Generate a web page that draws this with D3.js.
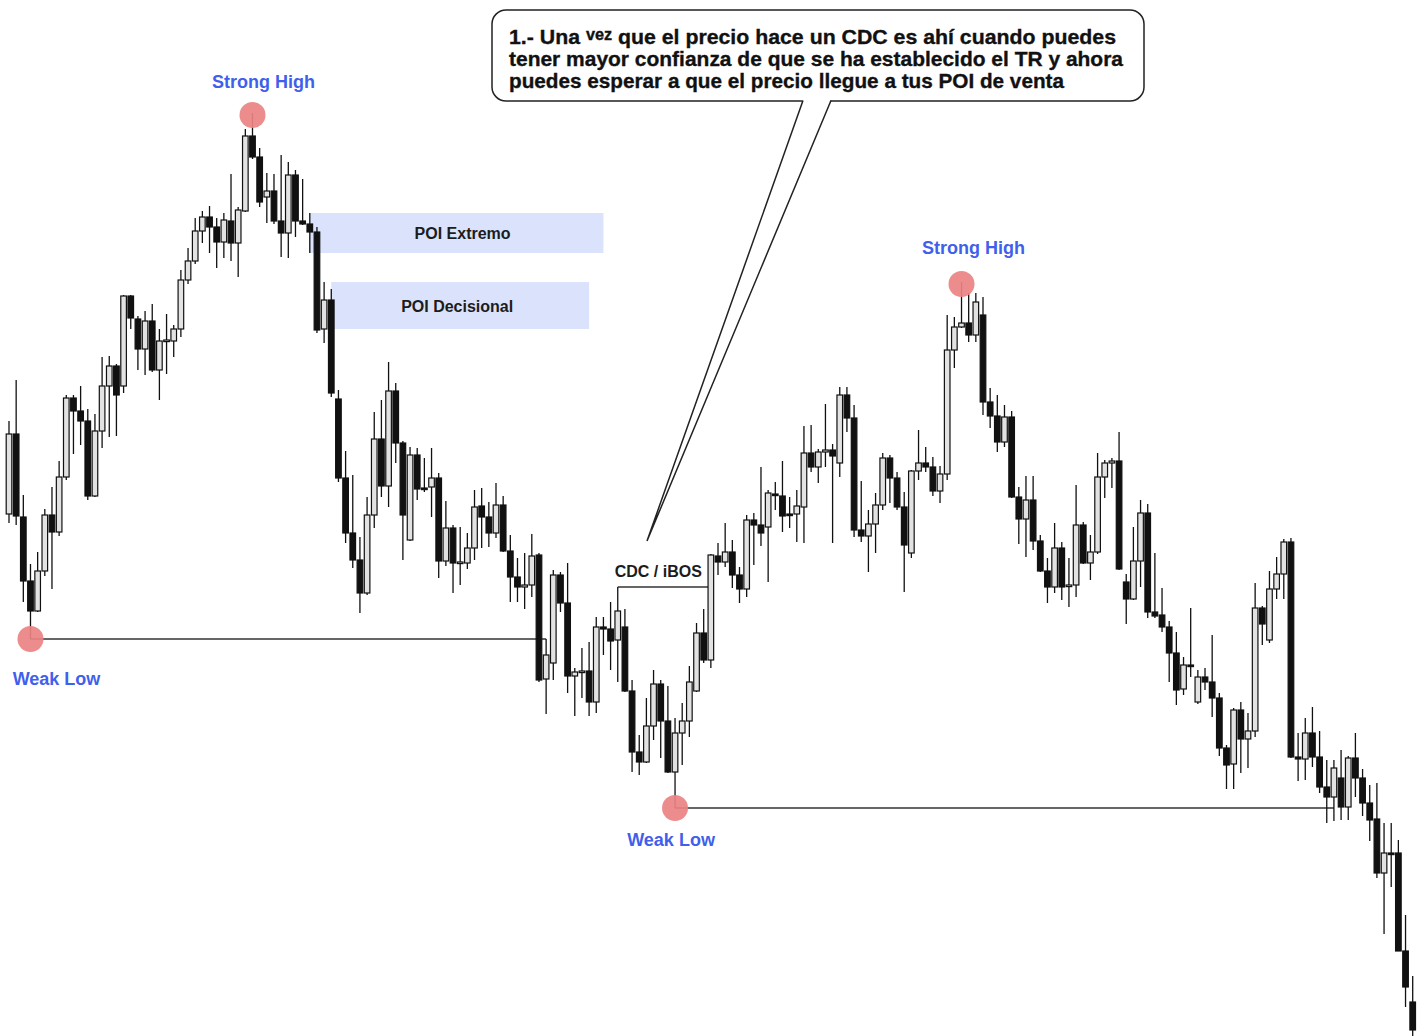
<!DOCTYPE html>
<html>
<head>
<meta charset="utf-8">
<script src="https://cdn.jsdelivr.net/npm/d3@7"></script>
<style>
  body { margin: 0; background: #fff; }
  svg { display: block; }
  text { font-family: "Liberation Sans", Arial, sans-serif; font-weight: bold; }
</style>
</head>
<body>
<script>
const width = 1421;
const height = 1036;

// precios OHLC (197 velas)
const opens = [
  586,666,583,519,489,529,585,568,623,702, 689,679,604,669,714,734,714,804,781,751,
  779,730,759,759,771,820,839,869,883,873, 858,879,857,889,964,943,903,909,879,867,
  925,879,876,868,771,800,701,622,567,540, 507,585,661,614,709,657,560,645,612,613,
  622,539,572,537,537,552,594,583,567,595, 549,523,513,515,545,421,437,525,497,424,
  428,429,398,473,471,460,473,409,348,338, 374,416,379,328,367,379,409,467,440,544,
  538,548,525,511,580,575,573,606,604,586, 586,593,647,633,648,650,637,705,682,570,
  564,576,595,642,622,593,547,629,637,633, 609,626,750,773,777,765,785,698,684,658,
  683,603,581,600,559,529,513,552,514,515, 575,537,548,623,637,639,518,501,539,587,
  488,485,473,447,411,435,398,423,418,402, 352,336,390,361,369,492,460,511,526,558,
  343,341,367,343,313,303,322,293,342,322, 297,281,227,247,247,149,98
];
const highs = [
  679,720,605,536,548,591,613,639,705,705, 714,691,686,743,744,736,805,805,784,789,
  796,771,786,775,830,852,882,889,894,882, 887,926,893,971,987,952,927,926,945,938,
  930,921,887,873,818,811,710,649,625,563, 603,688,700,738,717,659,653,652,642,652,
  627,599,575,573,567,610,612,598,617,604, 565,542,547,566,547,461,530,528,537,432,
  452,458,483,483,498,513,491,420,365,402, 430,420,414,382,397,434,477,491,546,557,
  577,560,533,585,587,633,610,618,639,603, 610,674,675,651,696,656,713,713,695,619,
  590,607,647,645,628,608,630,670,653,643, 634,785,783,818,807,807,803,712,705,695,
  689,613,624,624,565,542,577,558,542,615, 578,565,647,640,642,668,526,573,600,596,
  547,512,479,468,443,492,430,432,465,407, 355,392,398,387,517,494,529,543,561,562,
  367,382,393,369,340,340,350,344,367,331, 315,317,277,277,260,185,124
];
const lows = [
  577,575,498,461,488,524,511,564,620,646, 655,600,603,652,663,664,707,771,730,725,
  728,700,726,743,763,816,836,857,847,832, 842,839,823,888,941,893,877,876,843,842,
  863,875,847,767,757,703,618,557,532,487, 505,572,603,593,637,540,559,600,608,583,
  522,534,507,515,531,540,552,553,562,548, 498,498,491,503,418,386,420,488,407,384,
  402,384,387,445,430,418,408,328,325,337, 360,342,327,292,335,363,408,437,432,525,
  533,512,497,503,535,554,518,590,568,572, 558,557,628,617,633,557,623,668,563,558,
  528,547,590,597,590,508,542,620,628,604, 597,620,732,772,758,758,685,672,648,653,
  602,556,543,550,528,497,507,500,493,503, 536,520,546,602,612,530,476,500,513,482,
  482,468,418,395,405,423,396,410,383,344, 311,311,327,332,363,455,457,501,501,342,
  319,320,333,307,277,279,280,280,303,284, 259,222,166,213,149,93,64
];
const closes = [
  666,584,519,489,529,585,568,623,702,689, 679,604,669,714,734,705,804,782,751,779,
  730,759,760,771,820,839,869,883,873,858, 880,857,890,964,943,898,909,879,867,925,
  879,876,868,770,800,707,622,567,540,507, 585,661,614,709,657,585,645,611,611,622,
  539,572,537,538,552,593,583,567,595,549, 523,513,515,544,420,445,525,497,424,428,
  429,398,473,471,459,489,409,348,338,374, 416,379,328,367,379,418,467,440,545,538,
  548,525,511,580,575,567,607,606,584,586, 594,647,633,648,650,644,705,682,570,564,
  576,595,642,622,593,555,629,637,633,609, 626,750,773,777,765,798,698,684,658,683,
  603,581,600,559,529,513,552,513,515,575, 537,548,623,637,639,531,501,539,587,488,
  484,473,447,410,435,435,423,418,402,352, 335,390,361,369,492,476,511,526,558,343,
  341,367,343,313,303,332,293,342,322,297, 280,227,247,247,149,113,70
];

// velas de referencia para las marcas (índices)
const swingHighs = [34, 133];          // Strong High
const swingLows = [3, 93];             // Weak Low
const lowLineEnds = [75, 185];         // fin de la línea de cada Weak Low
const cdcFrom = 85, cdcTo = 98;        // CDC / iBOS
const poiNames = ["POI Extremo", "POI Decisional"];
const poiStart = [42, 45];
const poiEnd = [83, 81];

const noteLines = [
  "1.- Una vez que el precio hace un CDC es ahí cuando puedes",
  "tener mayor confianza de que se ha establecido el TR y ahora",
  "puedes esperar a que el precio llegue a tus POI de venta"
];

const candles = opens.map((o, i) => ({ i, o, h: highs[i], l: lows[i], c: closes[i] }));

const svg = d3.select("body").append("svg")
  .attr("width", width)
  .attr("height", height);

svg.append("rect").attr("width", width).attr("height", height).attr("fill", "#fff");

const x = d3.scaleLinear().domain([0, candles.length - 1]).range([9, 1412.7]);
const y = d3.scaleLinear().domain([64, 1100]).range([height, 0]);
const bw = 5.6;

// zonas POI (detrás de las velas)
const poiTop = [highs[poiStart[0]], highs[44]];
const poiBottom = [lows[poiStart[0]], opens[44]];
const poiTextDx = [6, -3];
poiNames.forEach((name, k) => {
  svg.append("rect")
    .attr("x", x(poiStart[k]))
    .attr("y", y(poiTop[k]))
    .attr("width", x(poiEnd[k]) - x(poiStart[k]))
    .attr("height", y(poiBottom[k]) - y(poiTop[k]))
    .attr("fill", "#dae3fb");
  svg.append("text")
    .attr("x", (x(poiStart[k]) + x(poiEnd[k])) / 2 + poiTextDx[k])
    .attr("y", (y(poiTop[k]) + y(poiBottom[k])) / 2 + 6)
    .attr("text-anchor", "middle")
    .attr("font-size", 16)
    .attr("fill", "#1c1c1c")
    .text(name);
});

// líneas de los Weak Low
swingLows.forEach((i, k) => {
  svg.append("line")
    .attr("x1", x(i)).attr("x2", x(lowLineEnds[k]))
    .attr("y1", y(lows[i])).attr("y2", y(lows[i]))
    .attr("stroke", "#666")
    .attr("stroke-width", 2.2);
});

// CDC / iBOS
svg.append("line")
  .attr("x1", x(cdcFrom)).attr("x2", x(cdcTo) - bw / 2)
  .attr("y1", y(highs[cdcFrom])).attr("y2", y(highs[cdcFrom]))
  .attr("stroke", "#666")
  .attr("stroke-width", 2.2);
svg.append("text")
  .attr("x", (x(cdcFrom) + x(cdcTo)) / 2 - 6)
  .attr("y", y(highs[cdcFrom]) - 10)
  .attr("text-anchor", "middle")
  .attr("font-size", 16)
  .attr("fill", "#1c1c1c")
  .text("CDC / iBOS");

// velas
const g = svg.append("g");
g.selectAll("line.wick")
  .data(candles)
  .join("line")
  .attr("class", "wick")
  .attr("x1", d => x(d.i)).attr("x2", d => x(d.i))
  .attr("y1", d => y(d.h)).attr("y2", d => y(d.l))
  .attr("stroke", "#111")
  .attr("stroke-width", 1.3);

g.selectAll("rect.body")
  .data(candles)
  .join("rect")
  .attr("class", "body")
  .attr("x", d => x(d.i) - bw / 2)
  .attr("y", d => y(Math.max(d.o, d.c)))
  .attr("width", bw)
  .attr("height", d => Math.max(1.6, Math.abs(y(d.o) - y(d.c))))
  .attr("fill", d => d.c > d.o ? "#e2e2e2" : "#111")
  .attr("stroke", "#111")
  .attr("stroke-width", 1.2);

// círculos
const pink = "#ea8282";
swingHighs.forEach(i => {
  svg.append("circle").attr("cx", x(i)).attr("cy", y(highs[i]) + 2).attr("r", 13)
    .attr("fill", pink).attr("opacity", 0.92);
});
swingLows.forEach(i => {
  svg.append("circle").attr("cx", x(i)).attr("cy", y(lows[i])).attr("r", 13)
    .attr("fill", pink).attr("opacity", 0.92);
});

const blue = "#3f5fec";
const highLabelDx = [11, 12], highLabelDy = [-25, -28];
swingHighs.forEach((i, k) => {
  svg.append("text")
    .attr("x", x(i) + highLabelDx[k])
    .attr("y", y(highs[i]) + highLabelDy[k])
    .attr("text-anchor", "middle")
    .attr("font-size", 18)
    .attr("fill", blue)
    .text("Strong High");
});
const lowLabelDx = [26, -4], lowLabelDy = [46, 38];
swingLows.forEach((i, k) => {
  svg.append("text")
    .attr("x", x(i) + lowLabelDx[k])
    .attr("y", y(lows[i]) + lowLabelDy[k])
    .attr("text-anchor", "middle")
    .attr("font-size", 18)
    .attr("fill", blue)
    .text("Weak Low");
});

// bocadillo
const tip = [647, 541];
svg.append("rect")
  .attr("x", 492).attr("y", 10)
  .attr("width", 652).attr("height", 91)
  .attr("rx", 14)
  .attr("fill", "#fff")
  .attr("stroke", "#222")
  .attr("stroke-width", 1.5);
svg.append("path")
  .attr("d", `M803,99 L${tip[0]},${tip[1]} L831,99 Z`)
  .attr("fill", "#fff");
svg.append("path")
  .attr("d", `M803,100.5 L${tip[0]},${tip[1]} L831,100.5`)
  .attr("fill", "none")
  .attr("stroke", "#222")
  .attr("stroke-width", 1.5);

const lineLen = [607, 614, 555];
noteLines.forEach((s, k) => {
  const t = svg.append("text")
    .attr("x", 509)
    .attr("y", 44 + k * 22)
    .attr("font-size", 21)
    .attr("fill", "#111")
    .attr("stroke", "#111")
    .attr("stroke-width", 0.35)
    .attr("textLength", lineLen[k])
    .attr("lengthAdjust", "spacingAndGlyphs");
  if (k === 0) {
    const parts = s.split("vez");
    t.append("tspan").text(parts[0]);
    t.append("tspan").attr("font-size", 16).attr("dy", -4).text("vez");
    t.append("tspan").attr("dy", 4).text(parts[1]);
  } else {
    t.text(s);
  }
});
</script>
</body>
</html>
